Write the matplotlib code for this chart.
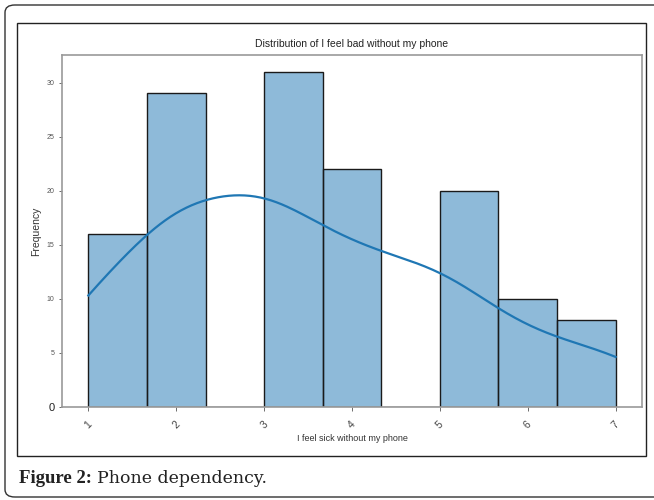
import numpy as np
import matplotlib
matplotlib.use('Agg')
import matplotlib.pyplot as plt
from matplotlib.patches import FancyBboxPatch, Rectangle
import seaborn as sns

# Ответы по шкале 1..7 и сколько раз встретились
answers = [1, 2, 3, 4, 5, 6, 7]
counts = [16, 29, 31, 22, 20, 10, 8]
x_ticks = [1, 2, 3, 4, 5, 6, 7]

values = np.repeat(answers, counts)

fig = plt.figure(figsize=(6.54, 5), dpi=100)
plt.rcParams['font.family'] = ['Liberation Sans', 'DejaVu Sans']

# Рамки вокруг картинки
W, H = 654, 500
outer = FancyBboxPatch((5 / W, 3 / H), 700 / W, 492 / H,
                       boxstyle='round,pad=0,rounding_size=0.015',
                       transform=fig.transFigure, fill=False,
                       edgecolor='#333333', linewidth=1.0)
fig.patches.append(outer)
inner = Rectangle((17 / W, 1 - 456 / H), (646 - 17) / W, (456 - 23) / H,
                  transform=fig.transFigure, fill=False,
                  edgecolor='#222222', linewidth=1.0)
fig.patches.append(inner)

ax = fig.add_axes([62 / W, 1 - 407 / H, (642 - 62) / W, (407 - 55) / H])
sns.histplot(values, bins=9, kde=True, ax=ax, color='#1f77b4',
             edgecolor='#1a1a1a', linewidth=1.0, alpha=0.5,
             line_kws={'linewidth': 1.6})

ax.set_xlim(0.7, 7.3)
ax.set_ylim(0, 32.55)
ax.set_xticks(x_ticks)
ax.set_xticklabels([str(t) for t in x_ticks], rotation=45, fontsize=7.5, color='#444444')
ax.set_yticks([0, 5, 10, 15, 20, 25, 30])
ax.tick_params(axis='y', labelsize=5, colors='#555555', length=2, width=0.6)
ax.tick_params(axis='x', length=3, width=0.6, colors='#555555', pad=6)
for lbl in ax.get_xticklabels():
    lbl.set_color('#444444')
ax.get_yticklabels()[0].set_fontsize(8)
ax.get_yticklabels()[0].set_color('#222222')
for s in ax.spines.values():
    s.set_color('#999999')
    s.set_linewidth(1.2)

ax.set_title('Distribution of I feel bad without my phone', fontsize=7.5, color='#222222', pad=6)
ax.set_xlabel('I feel sick without my phone', fontsize=6.5, color='#333333', labelpad=2)
ax.set_ylabel('Frequency', fontsize=7.5, color='#333333', labelpad=4)

# Подпись к рисунку
t1 = fig.text(19 / W, 1 - 483 / H, 'Figure 2:', fontsize=13.5, fontweight='bold',
              family='Liberation Serif', va='baseline', color='#222222')
fig.canvas.draw()
bb = t1.get_window_extent()
fig.text((bb.x1 + 5) / W, 1 - 483 / H, 'Phone dependency.', fontsize=12.5,
         family='DejaVu Serif', va='baseline', color='#222222')

fig.savefig('out.png', dpi=100)
